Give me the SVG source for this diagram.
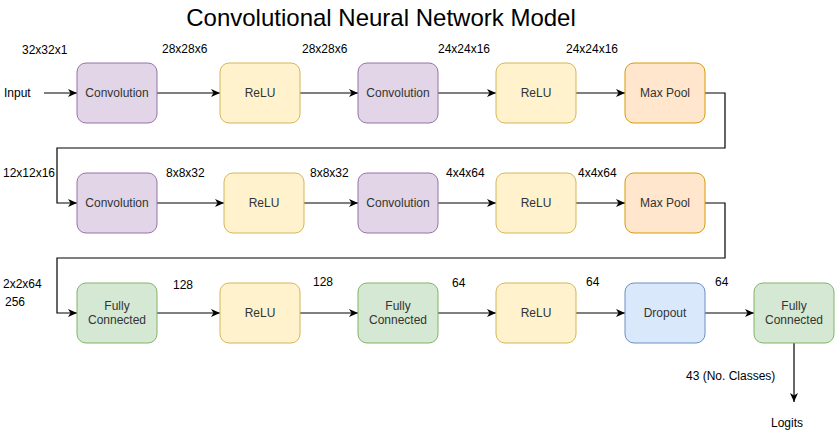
<svg xmlns="http://www.w3.org/2000/svg" width="835" height="434" viewBox="0 0 835 434">
<style>
.t{font-family:"Liberation Sans",Arial,sans-serif;font-size:12px;fill:#000}
.n{font-family:"Liberation Sans",Arial,sans-serif;font-size:12px;fill:#333;text-anchor:middle;dominant-baseline:central}
.conv{fill:#e1d5e7;stroke:#9673a6}
.relu{fill:#fff2cc;stroke:#d6b656}
.pool{fill:#ffe6cc;stroke:#d79b00}
.fc{fill:#d5e8d4;stroke:#82b366}
.drop{fill:#dae8fc;stroke:#6c8ebf}
.e{fill:none;stroke:#000;stroke-width:1.2;marker-end:url(#a)}
.w{fill:none;stroke:#000;stroke-width:1.2}
</style>
<defs>
<marker id="a" markerUnits="userSpaceOnUse" markerWidth="10" markerHeight="8" refX="9" refY="4" orient="auto">
<path d="M0,0 L9,4 L0,8 L2.5,4 Z" fill="#000"/>
</marker>
</defs>
<text x="381" y="26" style="font-family:'Liberation Sans',Arial,sans-serif;font-size:24px;fill:#000" text-anchor="middle">Convolutional Neural Network Model</text>

<g id="connectors">
<path class="e" d="M44,93 H77"/>
<path class="e" d="M157,93 H220"/>
<path class="e" d="M300,93 H358"/>
<path class="e" d="M438,93 H496"/>
<path class="e" d="M576,93 H625"/>
<path class="e" d="M705,93 H725 V148 H57 V203 H77"/>
<path class="e" d="M157,203 H224"/>
<path class="e" d="M304,203 H358"/>
<path class="e" d="M438,203 H496"/>
<path class="e" d="M576,203 H625"/>
<path class="e" d="M705,203 H725 V258 H57 V313 H77"/>
<path class="e" d="M157,313 H220"/>
<path class="e" d="M300,313 H358"/>
<path class="e" d="M438,313 H496"/>
<path class="e" d="M576,313 H625"/>
<path class="e" d="M705,313 H754"/>
<path class="e" d="M794,343 V402"/>
</g>

<g id="labels">
<text class="t" x="22" y="54">32x32x1</text>
<text class="t" x="162" y="53">28x28x6</text>
<text class="t" x="302" y="53">28x28x6</text>
<text class="t" x="438" y="53">24x24x16</text>
<text class="t" x="566" y="53">24x24x16</text>
<text class="t" x="4" y="97">Input</text>
<text class="t" x="3" y="177">12x12x16</text>
<text class="t" x="166" y="177">8x8x32</text>
<text class="t" x="310" y="177">8x8x32</text>
<text class="t" x="446" y="177">4x4x64</text>
<text class="t" x="578" y="177">4x4x64</text>
<text class="t" x="3" y="288">2x2x64</text>
<text class="t" x="5" y="306">256</text>
<text class="t" x="173" y="289">128</text>
<text class="t" x="313" y="286">128</text>
<text class="t" x="452" y="287">64</text>
<text class="t" x="586" y="286">64</text>
<text class="t" x="715" y="286">64</text>
<text class="t" x="686" y="380">43 (No. Classes)</text>
<text class="t" x="771" y="427">Logits</text>
</g>

<g id="conv1"><rect class="conv" x="77" y="63" width="80" height="60" rx="9"/><text class="n" x="117" y="93">Convolution</text></g>
<g id="relu1"><rect class="relu" x="220" y="63" width="80" height="60" rx="9"/><text class="n" x="260" y="93">ReLU</text></g>
<g id="conv2"><rect class="conv" x="358" y="63" width="80" height="60" rx="9"/><text class="n" x="398" y="93">Convolution</text></g>
<g id="relu2"><rect class="relu" x="496" y="63" width="80" height="60" rx="9"/><text class="n" x="536" y="93">ReLU</text></g>
<g id="pool1"><rect class="pool" x="625" y="63" width="80" height="60" rx="9"/><text class="n" x="665" y="93">Max Pool</text></g>

<g id="conv3"><rect class="conv" x="77" y="173" width="80" height="60" rx="9"/><text class="n" x="117" y="203">Convolution</text></g>
<g id="relu3"><rect class="relu" x="224" y="173" width="80" height="60" rx="9"/><text class="n" x="264" y="203">ReLU</text></g>
<g id="conv4"><rect class="conv" x="358" y="173" width="80" height="60" rx="9"/><text class="n" x="398" y="203">Convolution</text></g>
<g id="relu4"><rect class="relu" x="496" y="173" width="80" height="60" rx="9"/><text class="n" x="536" y="203">ReLU</text></g>
<g id="pool2"><rect class="pool" x="625" y="173" width="80" height="60" rx="9"/><text class="n" x="665" y="203">Max Pool</text></g>

<g id="fc1"><rect class="fc" x="77" y="283" width="80" height="60" rx="9"/><text class="n" x="117" y="306">Fully</text><text class="n" x="117" y="320">Connected</text></g>
<g id="relu5"><rect class="relu" x="220" y="283" width="80" height="60" rx="9"/><text class="n" x="260" y="313">ReLU</text></g>
<g id="fc2"><rect class="fc" x="358" y="283" width="80" height="60" rx="9"/><text class="n" x="398" y="306">Fully</text><text class="n" x="398" y="320">Connected</text></g>
<g id="relu6"><rect class="relu" x="496" y="283" width="80" height="60" rx="9"/><text class="n" x="536" y="313">ReLU</text></g>
<g id="dropout"><rect class="drop" x="625" y="283" width="80" height="60" rx="9"/><text class="n" x="665" y="313">Dropout</text></g>
<g id="fc3"><rect class="fc" x="754" y="283" width="80" height="60" rx="9"/><text class="n" x="794" y="306">Fully</text><text class="n" x="794" y="320">Connected</text></g>
</svg>
